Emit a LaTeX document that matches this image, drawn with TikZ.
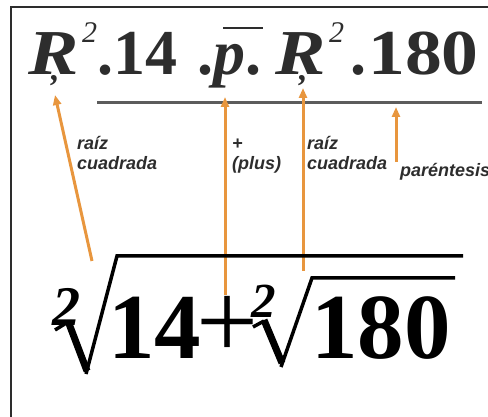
\documentclass[tikz,border=0pt]{standalone}
\usepackage{fontspec}
\setmainfont{Liberation Serif}
\newfontfamily\notefont{Liberation Sans}
\usepackage{tikz}
\usetikzlibrary{positioning, arrows.meta}
\definecolor{ink}{HTML}{2D2D2D}
\definecolor{rulegray}{HTML}{5C5C5C}
\definecolor{pointer}{HTML}{E8963E}

\begin{document}
\begin{tikzpicture}[x=1pt, y=-1pt,
    every node/.style={inner sep=0pt, anchor=base west},
    topterm/.style={text=ink, font=\fontsize{64}{64}\selectfont\bfseries},
    topsup/.style={text=ink, font=\fontsize{30}{30}\selectfont\itshape},
    hook/.style={text=ink, font=\fontsize{34}{34}\selectfont\bfseries\itshape},
    bigterm/.style={text=black, font=\fontsize{93}{93}\selectfont\bfseries},
    index/.style={text=black, font=\fontsize{#1}{#1}\selectfont\bfseries\itshape},
    note/.style={text=ink, align=left,
      font=\notefont\fontsize{18}{20}\selectfont\bfseries\itshape},
    arr/.style={-{Triangle[length=10pt, width=8pt]}, line width=3pt, color=pointer},
    radthin/.style={line width=3.5pt, line join=miter, line cap=butt},
    radthick/.style={line width=7pt, line cap=butt}]

  \useasboundingbox (0,0) rectangle (488,417);
  \draw[ink, line width=2pt] (10.5,417) -- (10.5,7.5) -- (488,7.5);

  % top line: R^2 . 14 . p . R^2 . 180
  \node[topterm] (ra) at (28,75) {\scalebox{1.18}[1]{\itshape R}};
  \node[hook] (raa) at (51,81) {,};
  \node[topsup] (ra2) at (82,43) {2};
  \node[topterm] (fourteen) at (97,75) {.14};
  \node[topterm] (plusword) at (197,75) {.\textit{p}.};
  \node[topterm] (rb) at (275,75) {\scalebox{1.18}[1]{\itshape R}};
  \node[hook] (rba) at (299,81) {,};
  \node[topsup] (rb2) at (329,43) {2};
  \node[topterm] (dotb) at (350,75) {.};
  \node[topterm] (eighty) at (368,75) {\scalebox{1.15}[1]{180}};
  \draw[ink, line width=2pt] (223,28) -- (263,28);
  \draw[rulegray, line width=2.5pt] (97,102.5) -- (482,102.5);

  % pointers
  \coordinate (ta) at (92,261);   \coordinate (ha) at (55,95);
  \coordinate (tp) at (225,295);  \coordinate (hp) at (225,97);
  \coordinate (tb) at (303,271);  \coordinate (hb) at (303,88);
  \coordinate (tc) at (396,162);  \coordinate (hc) at (396,107);
  \draw[arr] (ta) -- (ha);
  \draw[arr] (tp) -- (hp);
  \draw[arr] (tb) -- (hb);
  \draw[arr] (tc) -- (hc);

  \node[note] (na) at (77,170) {raíz\\cuadrada};
  \node[note] (np) at (232,170) {+\\(plus)};
  \node[note] (nb) at (307,170) {raíz\\cuadrada};
  \node[note] (nc) at (400,177) {paréntesis};

  % bottom: 2-root of 14 + 2-root of 180
  \draw[radthin] (55,330) -- (68,322);
  \draw[radthick] (68,321) -- (87,371);
  \draw[radthin] (86,374) -- (117,256) -- (463,256);
  \draw[radthin] (253,327) -- (264,321);
  \draw[radthick] (264,320) -- (282,363);
  \draw[radthin] (281,367) -- (312,278) -- (455,278);

  \node[index=56] (ia) at (52,325) {2};
  \node[index=49] (ib) at (251,318) {2};
  \node[bigterm] (a) at (108,358) {14};
  \node[text=black, font=\fontsize{110}{110}\selectfont] (plus) at (196,358) {+};
  \node[bigterm] (b) at (311,358) {180};
\end{tikzpicture}
\end{document}
